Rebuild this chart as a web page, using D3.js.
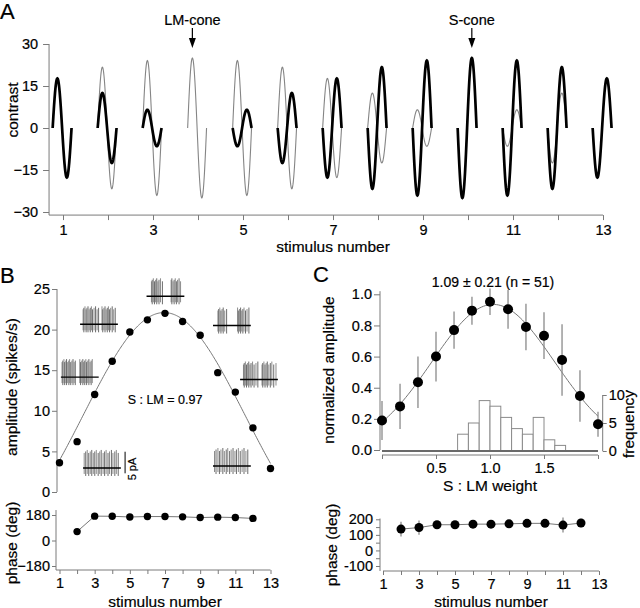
<!DOCTYPE html>
<html><head><meta charset="utf-8">
<script src="https://cdn.jsdelivr.net/npm/d3@7"></script>
<style>body{margin:0;background:#fff}svg{display:block}</style>
</head><body><svg id="c" width="640" height="608"></svg>
<script>
// ---------------- DATA ----------------
const stimuli = [1,2,3,4,5,6,7,8,9,10,11,12,13];
const oddStimLabels = [1,3,5,7,9,11,13];
// Panel A: cone contrasts (signed amplitude of one sinusoid cycle)
const sConeContrast  = [17.7, 12.5, 6.5, 0, -6.5, -12.5, -17.7, -21.7, -24.1, -25, -24.1, -21.7, -17.7];
const lmConeContrast = [17.7, 21.7, 24.1, 25, 24.1, 21.7, 17.7, 12.5, 6.5, 0, -6.5, -12.5, -17.7];
const contrastTicks = [-30, -15, 0, 15, 30];
// Panel B
const spikeAmplitude = [3.6, 6.2, 12.0, 16.1, 19.7, 21.2, 22.0, 21.0, 19.3, 14.7, 12.3, 7.9, 2.9];
const amplitudeTicks = [0, 5, 10, 15, 20, 25];
const phaseStimB = [2,3,4,5,6,7,8,9,10,11,12];
const spikePhaseB = [63, 172, 171, 166, 169, 169, 167, 162, 165, 162, 156];
const phaseTicksB = [-180, 0, 180];
const fitB = {base: -10, amp: 32.1, center: 6.95, sigma: 4.6};   // fitted tuning curve
const spikesInset1 = [0.03,0.05,0.08,0.10,0.13,0.15,0.18,0.21,0.23,0.26,0.29,0.32,0.35,0.38,0.50,0.52,0.55,0.58,0.60,0.63,0.66,0.68,0.71,0.74,0.77,0.80,0.83];
const spikesInset2 = [0.08,0.10,0.13,0.16,0.18,0.21,0.24,0.27,0.30,0.33,0.37,0.41,0.45,0.49,0.58,0.60,0.63,0.66,0.69,0.72,0.75,0.78,0.81,0.85,0.89,0.93];
const spikesInset3 = [0.13,0.15,0.18,0.21,0.24,0.27,0.30,0.33,0.37,0.42,0.65,0.67,0.70,0.73,0.76,0.79,0.82,0.86,0.90];
const spikesInset4 = [0.13,0.15,0.18,0.21,0.24,0.27,0.31,0.36,0.65,0.67,0.70,0.73,0.76,0.79,0.82,0.86,0.90,0.95];
const spikesInset5 = [0.09,0.11,0.14,0.17,0.20,0.23,0.26,0.29,0.33,0.37,0.42,0.47,0.58,0.60,0.63,0.66,0.69,0.72,0.76,0.80,0.84,0.89,0.95];
const spikesInset6 = [0.03,0.07,0.11,0.15,0.19,0.23,0.27,0.31,0.35,0.40,0.44,0.48,0.53,0.57,0.61,0.66,0.70,0.75,0.79,0.84,0.88,0.93];
const spikesInset7 = [0.04,0.08,0.13,0.17,0.21,0.26,0.30,0.35,0.39,0.44,0.48,0.53,0.58,0.62,0.67,0.72,0.77,0.82,0.87,0.92];
// Panel C
const slmWeight = [0, 0.167, 0.333, 0.5, 0.667, 0.833, 1.0, 1.167, 1.333, 1.5, 1.667, 1.833, 2.0];
const normAmplitude = [0.19, 0.28, 0.435, 0.60, 0.77, 0.895, 0.952, 0.904, 0.79, 0.734, 0.578, 0.347, 0.165];
const normAmplitudeErr = [0.125, 0.145, 0.165, 0.16, 0.12, 0.09, 0.085, 0.125, 0.15, 0.15, 0.23, 0.165, 0.08];
const normTicks = [0, 0.2, 0.4, 0.6, 0.8, 1.0];
const weightTicks = [0.5, 1.0, 1.5];
const histBinStart = [0.7, 0.8, 0.9, 1.0, 1.1, 1.2, 1.3, 1.4, 1.5, 1.6];
const histCount    = [3, 5, 9, 8, 6, 4, 3, 6, 2, 1];
const freqTicks = [0, 5, 10];
const fitC = {peak: 0.935, center: 1.03, sigma: 0.5675};
const phaseStimC = [2,3,4,5,6,7,8,9,10,11,12];
const phaseC = [137, 147, 165, 165, 169, 169, 171, 174, 174, 163, 176];
const phaseErrC = [48, 46, 20, 8, 8, 8, 8, 8, 8, 48, 27];
const phaseTicksC = [-100, 0, 100, 200];
const summaryText = "1.09 ± 0.21 (n = 51)";
const ratioText = "S : LM = 0.97";

// ---------------- DRAW ----------------
const FONT = '"Liberation Sans", Arial, Helvetica, sans-serif';
const AX = "#7a7a7a";
const TICKFS = 14.5, TITLEFS = 15.5;
const svg = d3.select("#c").attr("font-family", FONT);

function styleAxis(g) {
  g.select(".domain").remove();
  g.selectAll(".tick line").attr("stroke", AX);
  g.selectAll(".tick text").attr("fill", "#000").attr("font-size", TICKFS).attr("font-family", FONT)
    .attr("stroke", "#000").attr("stroke-width", 0.2);
}
function line(g, x1, y1, x2, y2, col, w) {
  g.append("line").attr("x1", x1).attr("y1", y1).attr("x2", x2).attr("y2", y2)
    .attr("stroke", col || AX).attr("stroke-width", w || 1);
}
function text(g, x, y, s, size, anchor, rot) {
  const t = g.append("text").attr("font-size", size).attr("text-anchor", anchor || "middle")
    .attr("stroke", "#000").attr("stroke-width", 0.2).text(s);
  if (rot) t.attr("transform", `translate(${x},${y}) rotate(${rot})`);
  else t.attr("x", x).attr("y", y);
  return t;
}

// ===== Panel A =====
const gA = svg.append("g");
const xA = d3.scaleLinear().domain([1, 13]).range([63, 603]);
const yA = d3.scaleLinear().domain([-30, 30]).range([212, 44]);
const axLeftA = xA(0.69), axBotA = yA(-31.1);
gA.append("g").attr("transform", `translate(${axLeftA},0)`)
  .call(d3.axisLeft(yA).tickValues(contrastTicks).tickSize(6).tickPadding(5)).call(styleAxis);
line(gA, axLeftA, yA(30), axLeftA, axBotA);
gA.append("g").attr("transform", `translate(0,${axBotA})`)
  .call(d3.axisBottom(xA).tickValues(stimuli).tickFormat(d => oddStimLabels.includes(d) ? d : "").tickSize(5).tickPadding(5))
  .call(styleAxis);
line(gA, axLeftA, axBotA, xA(13), axBotA);

const waveWidth = 0.42, waveOffset = -0.02;
const tt = d3.range(0, 1.00001, 1 / 80);
const waveX = (n, t) => xA(n + waveOffset + (t - 0.5) * waveWidth);
const wave = (n, amp) => d3.line()(tt.map(t => [waveX(n, t), yA(amp * Math.sin(2 * Math.PI * t))]));
stimuli.forEach((n, i) => {
  if (lmConeContrast[i] !== 0)
    gA.append("path").attr("d", wave(n, lmConeContrast[i])).attr("fill", "none").attr("stroke", "#858585").attr("stroke-width", 1.1);
});
stimuli.forEach((n, i) => {
  if (sConeContrast[i] !== 0)
    gA.append("path").attr("d", wave(n, sConeContrast[i])).attr("fill", "none").attr("stroke", "#000").attr("stroke-width", 2.7);
});
[{label: "LM-cone", n: 4, t: 0.25}, {label: "S-cone", n: 10, t: 0.75}].forEach(a => {
  const x = waveX(a.n, a.t);
  text(gA, x, 25, a.label, 14.5);
  line(gA, x, 28, x, 40, "#000", 1.2);
  gA.append("path").attr("d", `M${x - 3.5},38L${x + 3.5},38L${x},48Z`).attr("fill", "#000");
});
text(gA, 18, 110, "contrast", TITLEFS, "middle", -90);
text(gA, xA(7), 252, "stimulus number", TITLEFS);
text(gA, 0, 19, "A", 22, "start");

// ===== Panel B =====
const gB = svg.append("g");
const xB = d3.scaleLinear().domain([1, 13]).range([59.5, 270.5]);
const yB = d3.scaleLinear().domain([0, 25]).range([492, 289]);
const axLeftB = 57;
gB.append("g").attr("transform", `translate(${axLeftB},0)`)
  .call(d3.axisLeft(yB).tickValues(amplitudeTicks).tickSize(5).tickPadding(2)).call(styleAxis);
line(gB, axLeftB, yB(25), axLeftB, yB(0));
const fitBfun = n => fitB.base + fitB.amp * Math.exp(-Math.pow(n - fitB.center, 2) / (2 * fitB.sigma * fitB.sigma));
gB.append("path").attr("d", d3.line()(d3.range(1, 13.001, 0.05).map(n => [xB(n), yB(fitBfun(n))])))
  .attr("fill", "none").attr("stroke", "#777").attr("stroke-width", 1);
gB.selectAll("circle.amp").data(stimuli).join("circle").attr("class", "amp")
  .attr("cx", d => xB(d)).attr("cy", (d, i) => yB(spikeAmplitude[i])).attr("r", 3.7).attr("fill", "#000");
text(gB, xB(7), 404, ratioText, 12.5);

// spike insets (layout positions in B data coordinates)
const insets = [
  {spikes: spikesInset1, n0: 1.08, v: 14.15},
  {spikes: spikesInset2, n0: 2.17, v: 20.65},
  {spikes: spikesInset3, n0: 5.95, v: 24.1},
  {spikes: spikesInset4, n0: 9.73, v: 20.5},
  {spikes: spikesInset5, n0: 11.27, v: 13.85},
  {spikes: spikesInset6, n0: 2.34, v: 2.96},
  {spikes: spikesInset7, n0: 9.73, v: 3.2}
];
const insetW = 2.15;
insets.forEach(ins => {
  const x0 = xB(ins.n0), x1 = xB(ins.n0 + insetW), yb = yB(ins.v);
  ins.spikes.forEach((s, k) => {
    const x = x0 + s * (x1 - x0);
    const up = 15 + (k % 3) * 1.5, dn = 6 + (k % 2) * 2;
    line(gB, x, yb - up, x, yb + dn, (k % 2) ? "#5c5c5c" : "#808080", 0.9);
  });
  line(gB, x0, yb, x1, yb, "#000", 1.4);
});
// scale bar
const sbx = xB(4.73);
line(gB, sbx, yB(4.96), sbx, yB(2.30), "#000", 1);
text(gB, sbx + 11, yB(2.83), "5 pA", 11, "middle", -90);

// phase B
const yBp = d3.scaleLinear().domain([-180, 180]).range([566, 515]);
const axLeftBp = 56, axBotBp = 570;
gB.append("g").attr("transform", `translate(${axLeftBp},0)`)
  .call(d3.axisLeft(yBp).tickValues(phaseTicksB).tickSize(4).tickPadding(2)).call(styleAxis);
line(gB, axLeftBp, yBp(215), axLeftBp, axBotBp);
gB.append("g").attr("transform", `translate(0,${axBotBp})`)
  .call(d3.axisBottom(xB).tickValues(stimuli).tickFormat(d => oddStimLabels.includes(d) ? d : "").tickSize(4).tickPadding(4))
  .call(styleAxis);
line(gB, axLeftBp, axBotBp, xB(13), axBotBp);
gB.append("path").attr("d", d3.line()(phaseStimB.map((n, i) => [xB(n), yBp(spikePhaseB[i])])))
  .attr("fill", "none").attr("stroke", "#777").attr("stroke-width", 1);
gB.selectAll("circle.ph").data(phaseStimB).join("circle").attr("class", "ph")
  .attr("cx", d => xB(d)).attr("cy", (d, i) => yBp(spikePhaseB[i])).attr("r", 3.7).attr("fill", "#000");
text(gB, 17, 387, "amplitude (spikes/s)", TITLEFS, "middle", -90);
text(gB, 17, 543, "phase (deg)", TITLEFS, "middle", -90);
text(gB, xB(7), 606.5, "stimulus number", TITLEFS);
text(gB, 0, 283, "B", 22, "start");

// ===== Panel C =====
const gC = svg.append("g");
const xC = d3.scaleLinear().domain([0, 2]).range([382, 598]);
const yC = d3.scaleLinear().domain([0, 1]).range([450, 294.3]);
const yF = d3.scaleLinear().domain([0, 10]).range([451, 395]);
const axLeftC = 380, axBotC = 455;
gC.append("g").attr("transform", `translate(${axLeftC},0)`)
  .call(d3.axisLeft(yC).tickValues(normTicks).tickFormat(d3.format(".1f")).tickSize(6).tickPadding(2)).call(styleAxis);
line(gC, axLeftC, yC(1.02), axLeftC, yC(0));
gC.append("g").attr("transform", `translate(0,${axBotC})`)
  .call(d3.axisBottom(xC).tickValues([0, 0.5, 1.0, 1.5, 2.0]).tickFormat(d => weightTicks.includes(d) ? d3.format(".1f")(d) : "").tickSize(4).tickPadding(4))
  .call(styleAxis);
line(gC, xC(0), axBotC, xC(2), axBotC);
// right frequency axis
const axRightC = 602.7;
gC.append("g").attr("transform", `translate(${axRightC},0)`)
  .call(d3.axisRight(yF).tickValues(freqTicks).tickSize(4).tickPadding(2)).call(styleAxis);
line(gC, axRightC, yF(10), axRightC, yF(0));
// histogram
gC.selectAll("rect.h").data(histBinStart).join("rect").attr("class", "h")
  .attr("x", d => xC(d)).attr("width", d => xC(d + 0.1) - xC(d))
  .attr("y", (d, i) => yF(histCount[i])).attr("height", (d, i) => yF(0) - yF(histCount[i]))
  .attr("fill", "#fff").attr("stroke", "#8a8a8a").attr("stroke-width", 1);
line(gC, xC(0), yF(0), xC(2), yF(0), "#6a6a6a", 2);
// fit
const fitCfun = w => fitC.peak * Math.exp(-Math.pow(w - fitC.center, 2) / (2 * fitC.sigma * fitC.sigma));
gC.append("path").attr("d", d3.line()(d3.range(0, 2.0001, 0.02).map(w => [xC(w), yC(fitCfun(w))])))
  .attr("fill", "none").attr("stroke", "#777").attr("stroke-width", 1);
// error bars + points
slmWeight.forEach((w, i) => {
  line(gC, xC(w), yC(normAmplitude[i] + normAmplitudeErr[i]), xC(w), yC(normAmplitude[i] - normAmplitudeErr[i]), "#8a8a8a", 1.3);
});
gC.selectAll("circle.na").data(slmWeight).join("circle").attr("class", "na")
  .attr("cx", d => xC(d)).attr("cy", (d, i) => yC(normAmplitude[i])).attr("r", 5).attr("fill", "#000");
text(gC, 493, 287, summaryText, 14);
text(gC, 334, 370, "normalized amplitude", TITLEFS, "middle", -90);
text(gC, 634, 424, "frequency", TITLEFS, "middle", -90);
text(gC, xC(1.0), 491, "S : LM weight", TITLEFS);

// phase C
const xCp = d3.scaleLinear().domain([1, 13]).range([383, 599]);
const yCp = d3.scaleLinear().domain([-100, 200]).range([566, 519.3]);
const axBotCp = 571;
gC.append("g").attr("transform", `translate(${axLeftC},0)`)
  .call(d3.axisLeft(yCp).tickValues(d3.range(-100, 201, 50)).tickFormat(d => phaseTicksC.includes(d) ? d : "").tickSize(4).tickPadding(3))
  .call(styleAxis);
line(gC, axLeftC, yCp(205), axLeftC, yCp(-132));
gC.append("g").attr("transform", `translate(0,${axBotCp})`)
  .call(d3.axisBottom(xCp).tickValues(stimuli).tickFormat(d => oddStimLabels.includes(d) ? d : "").tickSize(4).tickPadding(4))
  .call(styleAxis);
line(gC, xCp(1), axBotCp, xCp(13), axBotCp);
phaseStimC.forEach((n, i) => {
  line(gC, xCp(n), yCp(phaseC[i] + phaseErrC[i]), xCp(n), yCp(phaseC[i] - phaseErrC[i]), "#8a8a8a", 1.3);
});
gC.append("path").attr("d", d3.line()(phaseStimC.map((n, i) => [xCp(n), yCp(phaseC[i])])))
  .attr("fill", "none").attr("stroke", "#777").attr("stroke-width", 1);
gC.selectAll("circle.pc").data(phaseStimC).join("circle").attr("class", "pc")
  .attr("cx", d => xCp(d)).attr("cy", (d, i) => yCp(phaseC[i])).attr("r", 4.5).attr("fill", "#000");
text(gC, 337, 545, "phase (deg)", TITLEFS, "middle", -90);
text(gC, xCp(7), 606.5, "stimulus number", TITLEFS);
text(gC, 313, 282, "C", 22, "start");
</script></body></html>
